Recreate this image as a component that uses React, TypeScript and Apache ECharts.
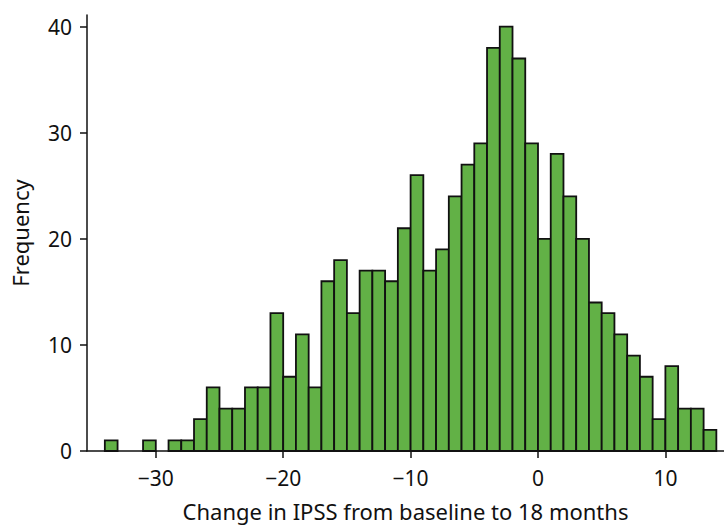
import React, { useEffect, useRef } from "react";
import * as echarts from "echarts";

// Histogram bins: each bin covers [start, start + 1)
const binStarts = [
  -34, -33, -32, -31, -30, -29, -28, -27, -26, -25, -24, -23, -22, -21, -20, -19,
  -18, -17, -16, -15, -14, -13, -12, -11, -10, -9, -8, -7, -6, -5, -4, -3,
  -2, -1, 0, 1, 2, 3, 4, 5, 6, 7, 8, 9, 10, 11, 12, 13,
];
const frequencies = [
  1, 0, 0, 1, 0, 1, 1, 3, 6, 4, 4, 6, 6, 13, 7, 11,
  6, 16, 18, 13, 17, 17, 16, 21, 26, 17, 19, 24, 27, 29, 38, 40,
  37, 29, 20, 28, 24, 20, 14, 13, 11, 9, 7, 3, 8, 4, 4, 2,
];
const xTicks = [-30, -20, -10, 0, 10];
const yTicks = [0, 10, 20, 30, 40];

const FONT = "'Noto Sans', 'Open Sans', sans-serif";

export default function App() {
  const ref = useRef<HTMLDivElement>(null);

  useEffect(() => {
    document.body.style.margin = "0";
    if (!ref.current) return;
    const chart = echarts.init(ref.current, null, { renderer: "svg" });
    const data = binStarts.map((s, i) => [s, frequencies[i]]);

    chart.setOption({
      animation: false,
      backgroundColor: "#ffffff",
      grid: { left: 87, right: 0, top: 15, bottom: 67 },
      xAxis: {
        type: "value",
        min: -35.4,
        max: 14.6,
        name: "Change in IPSS from baseline to 18 months",
        nameLocation: "middle",
        nameGap: 49,
        nameTextStyle: { fontFamily: FONT, fontSize: 22, color: "#111" },
        axisLine: { show: true, onZero: false, lineStyle: { color: "#111", width: 1.5 } },
        axisTick: {
          show: true,
          length: 7,
          customValues: xTicks,
          lineStyle: { color: "#111", width: 1.5 },
        },
        axisLabel: {
          customValues: xTicks,
          margin: 16,
          fontFamily: FONT,
          fontSize: 21,
          color: "#111",
          formatter: (v: number) => (v < 0 ? "\u2212" + Math.abs(v) : String(v)),
        },
        splitLine: { show: false },
      },
      yAxis: {
        type: "value",
        min: 0,
        max: 41.1,
        name: "Frequency",
        nameLocation: "middle",
        nameGap: 56,
        nameTextStyle: { fontFamily: FONT, fontSize: 22, color: "#111" },
        axisLine: { show: true, onZero: false, lineStyle: { color: "#111", width: 1.5 } },
        axisTick: {
          show: true,
          length: 7,
          customValues: yTicks,
          lineStyle: { color: "#111", width: 1.5 },
        },
        axisLabel: {
          customValues: yTicks,
          margin: 15,
          fontFamily: FONT,
          fontSize: 21,
          color: "#111",
        },
        splitLine: { show: false },
      },
      series: [
        {
          type: "custom",
          data,
          renderItem: (params: any, api: any) => {
            const start = api.value(0);
            const count = api.value(1);
            if (!count) return null;
            const p0 = api.coord([start, count]);
            const p1 = api.coord([start + 1, 0]);
            return {
              type: "rect",
              shape: { x: p0[0], y: p0[1], width: p1[0] - p0[0], height: p1[1] - p0[1] },
              style: { fill: "#62b146", stroke: "#111", lineWidth: 1.8 },
            };
          },
        },
      ],
    });

    return () => chart.dispose();
  }, []);

  return <div ref={ref} style={{ width: 724, height: 527 }} />;
}
